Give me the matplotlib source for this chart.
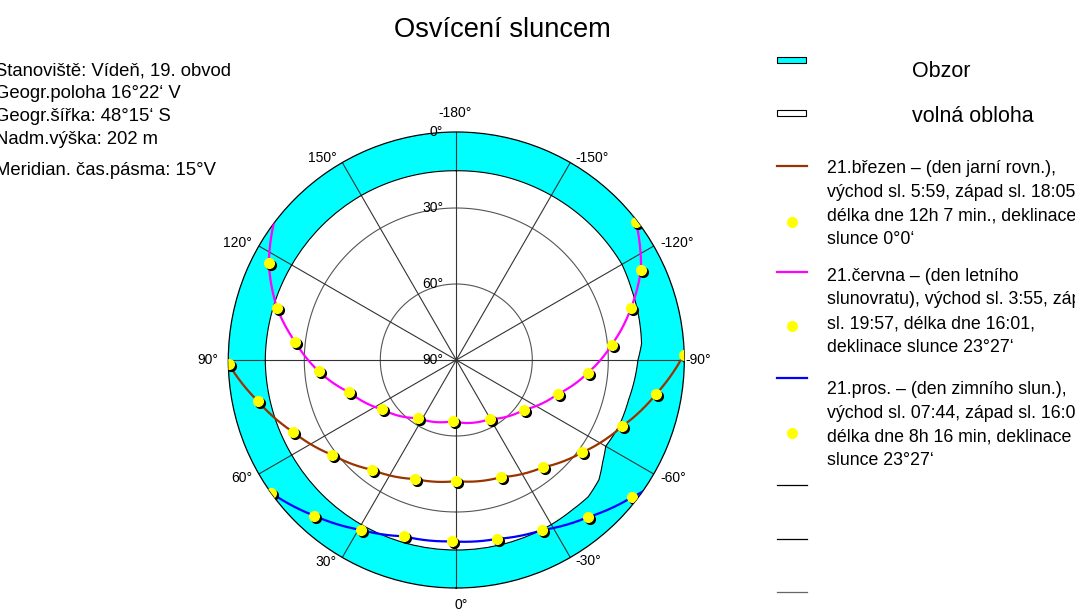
import numpy as np
import matplotlib
matplotlib.use("Agg")
import matplotlib.pyplot as plt
from matplotlib.path import Path
from matplotlib.patches import PathPatch, Rectangle
from matplotlib.transforms import offset_copy

plt.rcParams['font.family'] = ['Liberation Sans', 'DejaVu Sans']

# sun positions (azimuth from south, + = left / morning side, altitude in deg)
equinox_az = [89.0, 78.4, 66.3, 52.5, 37.7, 19.1, 0.1, -20.9, -38.8, -53.8, -68.2, -80.3, -91.3]
equinox_alt = [0.1, 9.9, 19.5, 28.4, 35.3, 40.3, 42.2, 40.5, 35.6, 28.3, 19.5, 10.0, 0.2]

summer_az = [117.3, 106.2, 96.3, 85.3, 73.2, 56.4, 33.7, 3.5, -29.7, -53.8, -71.4, -84.3,
             -95.5, -106.5, -116.1, -127.6]
summer_alt = [6.7, 16.3, 26.1, 35.5, 45.9, 54.8, 62.5, 65.8, 63.2, 56.8, 47.8, 37.9,
              28.4, 18.1, 8.8, 0.5]
summer_rise = (126.8, 0.0)

winter_az = [54.4, 42.4, 29.3, 16.6, 1.5, -12.7, -26.8, -39.9, -52.0]
winter_alt = [0.0, 6.8, 13.1, 17.4, 18.4, 17.6, 14.8, 9.1, 2.0]
winter_set = (-54.7, 0.0)

# horizon profile
horizon_az = [-180, -150, -120, -112, -103, -95, -90, -77, -68, -60, -55, -50, -44, -38,
              -30, 0, 30, 60, 90, 120, 150, 180]
horizon_alt = [15.3, 15.0, 14.5, 15.4, 16.0, 16.6, 18.3, 20.2, 20.7, 21.9, 19.5, 16.5, 15.0, 15.2,
               15.0, 15.0, 15.0, 15.0, 14.6, 15.0, 15.0, 15.3]

azimuth_labels = [0, 30, 60, 90, 120, 150, 180, -150, -120, -90, -60, -30]
altitude_labels = [0, 30, 60, 90]

W, H = 1075, 610
fig = plt.figure(figsize=(W / 100, H / 100), dpi=100)

cx, cy, R = 456.3, 360.0, 228.0
ax = fig.add_axes([(cx - R) / W, (H - cy - R) / H, 2 * R / W, 2 * R / H], projection='polar')
ax.set_theta_zero_location('S')
ax.set_theta_direction(-1)
ax.set_ylim(0, 90)
ax.set_xticks([])
ax.set_yticks([])
ax.grid(False)
ax.spines['polar'].set_color('black')
ax.spines['polar'].set_linewidth(0.9)


def th(az):
    return np.radians(np.asarray(az, dtype=float))


def zd(alt):
    return 90.0 - np.asarray(alt, dtype=float)


def polar_line(az, alt, **kw):
    ln, = ax.plot(th(az), zd(alt), **kw)
    ln.get_path()._interpolation_steps = 30
    return ln


# horizon band
t_in = th(horizon_az)
r_in = zd(horizon_alt)
verts = list(zip(t_in, r_in)) + list(zip(t_in[::-1], np.full(len(t_in), 90.0)))
verts.append(verts[0])
codes = [Path.MOVETO] + [Path.LINETO] * (len(verts) - 2) + [Path.CLOSEPOLY]
band = Path(verts, codes, _interpolation_steps=40)
ax.add_patch(PathPatch(band, facecolor='#00FFFF', edgecolor='none', zorder=1))

# altitude circles and azimuth spokes
circ = np.linspace(0, 2 * np.pi, 400)
for a in (30, 60):
    ax.plot(circ, np.full(circ.size, zd(a)), color='#555555', lw=0.8, zorder=2)
for a in range(0, 360, 30):
    ax.plot([th(a)] * 2, [0, 90], color='#333333', lw=0.8, zorder=2)
polar_line(horizon_az, horizon_alt, color='black', lw=0.8, zorder=3)

# sun paths
polar_line(equinox_az, equinox_alt, color='#993300', lw=1.6, zorder=4)
polar_line([summer_rise[0]] + summer_az, [summer_rise[1]] + summer_alt,
           color='#FF00FF', lw=1.6, zorder=4)
polar_line(winter_az + [winter_set[0]], winter_alt + [winter_set[1]],
           color='#0000FF', lw=1.6, zorder=4)

shadow = offset_copy(ax.transData, fig=fig, x=2, y=-2, units='dots')
for az, alt in ((equinox_az, equinox_alt), (summer_az, summer_alt), (winter_az, winter_alt)):
    ax.plot(th(az), zd(alt), ls='none', marker='o', ms=7, mfc='black', mec='black',
            transform=shadow, zorder=5)
    ax.plot(th(az), zd(alt), ls='none', marker='o', ms=7, mfc='#FFFF00', mec='#FFFF00',
            zorder=6)

# azimuth labels around the rim (pixel offsets from the spoke ends)
label_offsets = {0: (5, -17), 30: (-16, -5), 60: (-17, -4), 90: (-20, 0), 120: (-21, 3),
                 150: (-20, 5), 180: (-1, 19), -150: (22, 5), -120: (23, 3), -90: (14, 0),
                 -60: (19, -4), -30: (18, -4)}
for a in azimuth_labels:
    txt = f'{a}°' if a != 180 else '-180°'
    ax.annotate(txt, xy=(th(a), 90), xytext=label_offsets[a], textcoords='offset pixels',
                ha='center', va='center', fontsize=10, annotation_clip=False)
for a in altitude_labels:
    ax.annotate(f'{a}°', xy=(np.pi, zd(a)), xytext=(-13, 0), textcoords='offset pixels',
                ha='right', va='center', fontsize=10, annotation_clip=False, zorder=7)

# overlay in pixel coordinates for title, site info and legend
lax = fig.add_axes([0, 0, 1, 1])
lax.set_xlim(0, W)
lax.set_ylim(H, 0)
lax.axis('off')

lax.text(502, 36.7, 'Osvícení sluncem', ha='center', va='baseline', fontsize=19.6)

info = ['Stanoviště: Vídeň, 19. obvod', 'Geogr.poloha 16°22‘ V', 'Geogr.šířka: 48°15‘ S',
        'Nadm.výška: 202 m', 'Meridian. čas.pásma: 15°V']
info_y = [75, 97.5, 121, 144, 175]
for s, y in zip(info, info_y):
    lax.text(-5, y, s, ha='left', va='baseline', fontsize=13.3)

lax.add_patch(Rectangle((777.3, 56.7), 29, 6.7, facecolor='#00FFFF', edgecolor='black', lw=0.8))
lax.add_patch(Rectangle((777.3, 109.5), 29, 6.7, facecolor='white', edgecolor='black', lw=0.8))
lax.text(911.7, 77.3, 'Obzor', ha='left', va='baseline', fontsize=15.5)
lax.text(911.7, 121.7, 'volná obloha', ha='left', va='baseline', fontsize=15.5)

legend_groups = [
    ('#993300', 166.0, 221.7, 173.3,
     ['21.březen – (den jarní rovn.),', 'východ sl. 5:59, západ sl. 18:05',
      'délka dne 12h 7 min., deklinace', 'slunce 0°0‘']),
    ('#FF00FF', 272.3, 326.0, 280.7,
     ['21.června – (den letního', 'slunovratu), východ sl. 3:55, západ',
      'sl. 19:57, délka dne 16:01,', 'deklinace slunce 23°27‘']),
    ('#0000FF', 378.3, 432.7, 394.0,
     ['21.pros. – (den zimního slun.),', 'východ sl. 07:44, západ sl. 16:00,',
      'délka dne 8h 16 min, deklinace', 'slunce 23°27‘']),
]
for color, ly, dy, ty, lines in legend_groups:
    lax.plot([777.3, 806.7], [ly, ly], color=color, lw=1.6)
    lax.plot([791.7], [dy], ls='none', marker='o', ms=7, mfc='#FFFF00', mec='#FFFF00')
    for i, s in enumerate(lines):
        lax.text(826.7, ty + i * 23.7, s, ha='left', va='baseline', fontsize=12.8)

for ly, c in ((485, 'black'), (539, 'black'), (592.3, '#666666')):
    lax.plot([777.3, 806.7], [ly, ly], color=c, lw=0.9)

fig.savefig('out.png', dpi=100)
